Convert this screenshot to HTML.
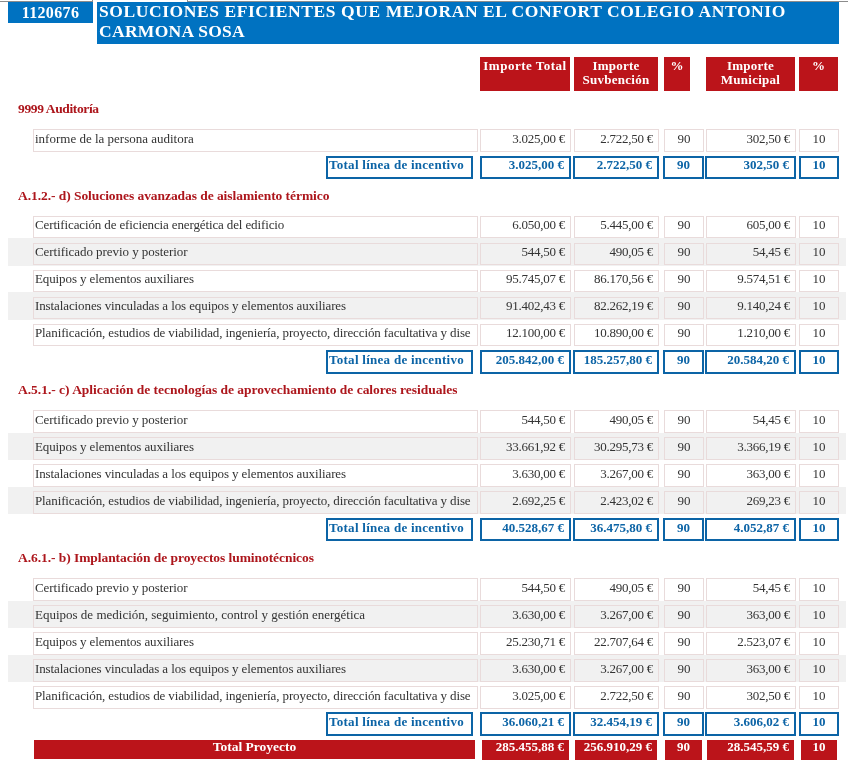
<!DOCTYPE html>
<html lang="es"><head><meta charset="utf-8"><title>Informe</title>
<style>
html,body{margin:0;padding:0;background:#fff;}
body{width:848px;height:769px;position:relative;overflow:hidden;font-family:"Liberation Serif",serif;font-size:13px;color:#333;}
div{position:absolute;box-sizing:border-box;white-space:nowrap;overflow:hidden;}
.topline{background:#8c8c8c;height:1px;top:1px;}
.id{left:8px;top:2px;width:85px;height:21px;background:#0072c1;color:#fff;font-weight:bold;font-size:16px;line-height:21px;text-align:center;letter-spacing:.35px;padding-left:0;}
.title{left:97px;top:2px;width:742px;height:42px;background:#0072c1;color:#fff;font-weight:bold;font-size:17.5px;line-height:20px;}
.title span{position:absolute;left:2px;white-space:nowrap;}
.hd{top:57px;height:34px;background:#bb141a;color:#fff;font-weight:bold;font-size:13px;line-height:14px;text-align:center;padding-top:2px;white-space:normal;letter-spacing:.25px;}
.sec{left:18px;color:#ad161c;font-weight:bold;font-size:13.5px;line-height:16px;height:18px;letter-spacing:-.06px;}
.band{left:8px;width:838px;height:28px;background:#f1f1f1;}
.c{height:22px;border:1px solid #e9dbdb;line-height:16px;}
.l{padding-left:1px;}
.r{text-align:right;padding-right:5px;letter-spacing:-.25px;}
.m{text-align:center;}
.t{height:23px;border:2px solid #0c64a6;color:#0c64a6;font-weight:bold;line-height:16px;font-size:13px;}
.t.r{padding-right:5px;letter-spacing:0;}
.tl{letter-spacing:.27px;text-align:left;padding-left:1px;}
.p{background:#bb141a;color:#fff;font-weight:bold;line-height:14px;height:20px;top:740px;font-size:13px;}
.p.r{padding-right:5px;letter-spacing:0;}
</style></head><body>
<div class="topline" style="left:0;width:93px"></div>
<div class="topline" style="left:187px;width:661px"></div>
<div class="topline" style="left:92px;width:1px;top:0;height:3px"></div>
<div class="topline" style="left:187px;width:1px;top:0;height:3px"></div>
<div class="id">1120676</div>
<div class="title"><span style="top:-1px;letter-spacing:.57px">SOLUCIONES EFICIENTES QUE MEJORAN EL CONFORT COLEGIO ANTONIO</span> <span style="top:19px;letter-spacing:.3px">CARMONA SOSA</span></div>

<div class="hd" style="left:480px;width:90px;letter-spacing:.5px">Importe Total</div>
<div class="hd" style="left:574px;width:84px">Importe<br>Suvbención</div>
<div class="hd" style="left:664px;width:26px">%</div>
<div class="hd" style="left:706px;width:89px">Importe<br>Municipal</div>
<div class="hd" style="left:799px;width:39px">%</div>
<div class="sec" style="top:101px;letter-spacing:-0.37px">9999 Auditoría</div>
<div class="c l" style="left:33px;width:445px;top:129px;height:23px;padding-top:1px">informe de la persona auditora</div>
<div class="c r" style="left:480px;width:91px;top:129px;height:23px;padding-top:1px">3.025,00 €</div>
<div class="c r" style="left:574px;width:85px;top:129px;height:23px;padding-top:1px">2.722,50 €</div>
<div class="c m" style="left:664px;width:40px;top:129px;height:23px;padding-top:1px">90</div>
<div class="c r" style="left:706px;width:90px;top:129px;height:23px;padding-top:1px">302,50 €</div>
<div class="c m" style="left:799px;width:40px;top:129px;height:23px;padding-top:1px">10</div>
<div class="t tl" style="left:326px;width:147px;top:156px;line-height:14px">Total línea de incentivo</div>
<div class="t r" style="left:480px;width:91px;top:156px;line-height:14px">3.025,00 €</div>
<div class="t r" style="left:573px;width:86px;top:156px;line-height:14px">2.722,50 €</div>
<div class="t m" style="left:663px;width:41px;top:156px;line-height:14px">90</div>
<div class="t r" style="left:705px;width:91px;top:156px;line-height:14px">302,50 €</div>
<div class="t m" style="left:799px;width:40px;top:156px;line-height:14px">10</div>
<div class="sec" style="top:188px">A.1.2.- d) Soluciones avanzadas de aislamiento térmico</div>
<div class="c l" style="left:33px;width:445px;top:216px;letter-spacing:-0.127px">Certificación de eficiencia energética del edificio</div>
<div class="c r" style="left:480px;width:91px;top:216px">6.050,00 €</div>
<div class="c r" style="left:574px;width:85px;top:216px">5.445,00 €</div>
<div class="c m" style="left:664px;width:40px;top:216px">90</div>
<div class="c r" style="left:706px;width:90px;top:216px">605,00 €</div>
<div class="c m" style="left:799px;width:40px;top:216px">10</div>
<div class="band" style="top:238px;height:28px"></div>
<div class="c l" style="left:33px;width:445px;top:243px;letter-spacing:-0.055px">Certificado previo y posterior</div>
<div class="c r" style="left:480px;width:91px;top:243px">544,50 €</div>
<div class="c r" style="left:574px;width:85px;top:243px">490,05 €</div>
<div class="c m" style="left:664px;width:40px;top:243px">90</div>
<div class="c r" style="left:706px;width:90px;top:243px">54,45 €</div>
<div class="c m" style="left:799px;width:40px;top:243px">10</div>
<div class="c l" style="left:33px;width:445px;top:270px;letter-spacing:-0.107px">Equipos y elementos auxiliares</div>
<div class="c r" style="left:480px;width:91px;top:270px">95.745,07 €</div>
<div class="c r" style="left:574px;width:85px;top:270px">86.170,56 €</div>
<div class="c m" style="left:664px;width:40px;top:270px">90</div>
<div class="c r" style="left:706px;width:90px;top:270px">9.574,51 €</div>
<div class="c m" style="left:799px;width:40px;top:270px">10</div>
<div class="band" style="top:292px;height:28px"></div>
<div class="c l" style="left:33px;width:445px;top:297px;letter-spacing:-0.104px">Instalaciones vinculadas a los equipos y elementos auxiliares</div>
<div class="c r" style="left:480px;width:91px;top:297px">91.402,43 €</div>
<div class="c r" style="left:574px;width:85px;top:297px">82.262,19 €</div>
<div class="c m" style="left:664px;width:40px;top:297px">90</div>
<div class="c r" style="left:706px;width:90px;top:297px">9.140,24 €</div>
<div class="c m" style="left:799px;width:40px;top:297px">10</div>
<div class="c l" style="left:33px;width:445px;top:324px;letter-spacing:-0.116px">Planificación, estudios de viabilidad, ingeniería, proyecto, dirección facultativa y dise</div>
<div class="c r" style="left:480px;width:91px;top:324px">12.100,00 €</div>
<div class="c r" style="left:574px;width:85px;top:324px">10.890,00 €</div>
<div class="c m" style="left:664px;width:40px;top:324px">90</div>
<div class="c r" style="left:706px;width:90px;top:324px">1.210,00 €</div>
<div class="c m" style="left:799px;width:40px;top:324px">10</div>
<div class="t tl" style="left:326px;width:147px;top:350px;height:24px">Total línea de incentivo</div>
<div class="t r" style="left:480px;width:91px;top:350px;height:24px">205.842,00 €</div>
<div class="t r" style="left:573px;width:86px;top:350px;height:24px">185.257,80 €</div>
<div class="t m" style="left:663px;width:41px;top:350px;height:24px">90</div>
<div class="t r" style="left:705px;width:91px;top:350px;height:24px">20.584,20 €</div>
<div class="t m" style="left:799px;width:40px;top:350px;height:24px">10</div>
<div class="sec" style="top:382px;letter-spacing:-0.02px">A.5.1.- c) Aplicación de tecnologías de aprovechamiento de calores residuales</div>
<div class="c l" style="left:33px;width:445px;top:410px;height:23px;padding-top:1px;letter-spacing:-0.055px">Certificado previo y posterior</div>
<div class="c r" style="left:480px;width:91px;top:410px;height:23px;padding-top:1px">544,50 €</div>
<div class="c r" style="left:574px;width:85px;top:410px;height:23px;padding-top:1px">490,05 €</div>
<div class="c m" style="left:664px;width:40px;top:410px;height:23px;padding-top:1px">90</div>
<div class="c r" style="left:706px;width:90px;top:410px;height:23px;padding-top:1px">54,45 €</div>
<div class="c m" style="left:799px;width:40px;top:410px;height:23px;padding-top:1px">10</div>
<div class="band" style="top:433px;height:27px"></div>
<div class="c l" style="left:33px;width:445px;top:437px;height:23px;padding-top:1px;letter-spacing:-0.107px">Equipos y elementos auxiliares</div>
<div class="c r" style="left:480px;width:91px;top:437px;height:23px;padding-top:1px">33.661,92 €</div>
<div class="c r" style="left:574px;width:85px;top:437px;height:23px;padding-top:1px">30.295,73 €</div>
<div class="c m" style="left:664px;width:40px;top:437px;height:23px;padding-top:1px">90</div>
<div class="c r" style="left:706px;width:90px;top:437px;height:23px;padding-top:1px">3.366,19 €</div>
<div class="c m" style="left:799px;width:40px;top:437px;height:23px;padding-top:1px">10</div>
<div class="c l" style="left:33px;width:445px;top:464px;height:23px;padding-top:1px;letter-spacing:-0.104px">Instalaciones vinculadas a los equipos y elementos auxiliares</div>
<div class="c r" style="left:480px;width:91px;top:464px;height:23px;padding-top:1px">3.630,00 €</div>
<div class="c r" style="left:574px;width:85px;top:464px;height:23px;padding-top:1px">3.267,00 €</div>
<div class="c m" style="left:664px;width:40px;top:464px;height:23px;padding-top:1px">90</div>
<div class="c r" style="left:706px;width:90px;top:464px;height:23px;padding-top:1px">363,00 €</div>
<div class="c m" style="left:799px;width:40px;top:464px;height:23px;padding-top:1px">10</div>
<div class="band" style="top:487px;height:27px"></div>
<div class="c l" style="left:33px;width:445px;top:491px;height:23px;padding-top:1px;letter-spacing:-0.116px">Planificación, estudios de viabilidad, ingeniería, proyecto, dirección facultativa y dise</div>
<div class="c r" style="left:480px;width:91px;top:491px;height:23px;padding-top:1px">2.692,25 €</div>
<div class="c r" style="left:574px;width:85px;top:491px;height:23px;padding-top:1px">2.423,02 €</div>
<div class="c m" style="left:664px;width:40px;top:491px;height:23px;padding-top:1px">90</div>
<div class="c r" style="left:706px;width:90px;top:491px;height:23px;padding-top:1px">269,23 €</div>
<div class="c m" style="left:799px;width:40px;top:491px;height:23px;padding-top:1px">10</div>
<div class="t tl" style="left:326px;width:147px;top:518px">Total línea de incentivo</div>
<div class="t r" style="left:480px;width:91px;top:518px">40.528,67 €</div>
<div class="t r" style="left:573px;width:86px;top:518px">36.475,80 €</div>
<div class="t m" style="left:663px;width:41px;top:518px">90</div>
<div class="t r" style="left:705px;width:91px;top:518px">4.052,87 €</div>
<div class="t m" style="left:799px;width:40px;top:518px">10</div>
<div class="sec" style="top:550px">A.6.1.- b) Implantación de proyectos luminotécnicos</div>
<div class="c l" style="left:33px;width:445px;top:578px;height:23px;padding-top:1px;letter-spacing:-0.055px">Certificado previo y posterior</div>
<div class="c r" style="left:480px;width:91px;top:578px;height:23px;padding-top:1px">544,50 €</div>
<div class="c r" style="left:574px;width:85px;top:578px;height:23px;padding-top:1px">490,05 €</div>
<div class="c m" style="left:664px;width:40px;top:578px;height:23px;padding-top:1px">90</div>
<div class="c r" style="left:706px;width:90px;top:578px;height:23px;padding-top:1px">54,45 €</div>
<div class="c m" style="left:799px;width:40px;top:578px;height:23px;padding-top:1px">10</div>
<div class="band" style="top:601px;height:27px"></div>
<div class="c l" style="left:33px;width:445px;top:605px;height:23px;padding-top:1px">Equipos de medición, seguimiento, control y gestión energética</div>
<div class="c r" style="left:480px;width:91px;top:605px;height:23px;padding-top:1px">3.630,00 €</div>
<div class="c r" style="left:574px;width:85px;top:605px;height:23px;padding-top:1px">3.267,00 €</div>
<div class="c m" style="left:664px;width:40px;top:605px;height:23px;padding-top:1px">90</div>
<div class="c r" style="left:706px;width:90px;top:605px;height:23px;padding-top:1px">363,00 €</div>
<div class="c m" style="left:799px;width:40px;top:605px;height:23px;padding-top:1px">10</div>
<div class="c l" style="left:33px;width:445px;top:632px;height:23px;padding-top:1px;letter-spacing:-0.107px">Equipos y elementos auxiliares</div>
<div class="c r" style="left:480px;width:91px;top:632px;height:23px;padding-top:1px">25.230,71 €</div>
<div class="c r" style="left:574px;width:85px;top:632px;height:23px;padding-top:1px">22.707,64 €</div>
<div class="c m" style="left:664px;width:40px;top:632px;height:23px;padding-top:1px">90</div>
<div class="c r" style="left:706px;width:90px;top:632px;height:23px;padding-top:1px">2.523,07 €</div>
<div class="c m" style="left:799px;width:40px;top:632px;height:23px;padding-top:1px">10</div>
<div class="band" style="top:655px;height:27px"></div>
<div class="c l" style="left:33px;width:445px;top:659px;height:23px;padding-top:1px;letter-spacing:-0.104px">Instalaciones vinculadas a los equipos y elementos auxiliares</div>
<div class="c r" style="left:480px;width:91px;top:659px;height:23px;padding-top:1px">3.630,00 €</div>
<div class="c r" style="left:574px;width:85px;top:659px;height:23px;padding-top:1px">3.267,00 €</div>
<div class="c m" style="left:664px;width:40px;top:659px;height:23px;padding-top:1px">90</div>
<div class="c r" style="left:706px;width:90px;top:659px;height:23px;padding-top:1px">363,00 €</div>
<div class="c m" style="left:799px;width:40px;top:659px;height:23px;padding-top:1px">10</div>
<div class="c l" style="left:33px;width:445px;top:686px;height:23px;padding-top:1px;letter-spacing:-0.116px">Planificación, estudios de viabilidad, ingeniería, proyecto, dirección facultativa y dise</div>
<div class="c r" style="left:480px;width:91px;top:686px;height:23px;padding-top:1px">3.025,00 €</div>
<div class="c r" style="left:574px;width:85px;top:686px;height:23px;padding-top:1px">2.722,50 €</div>
<div class="c m" style="left:664px;width:40px;top:686px;height:23px;padding-top:1px">90</div>
<div class="c r" style="left:706px;width:90px;top:686px;height:23px;padding-top:1px">302,50 €</div>
<div class="c m" style="left:799px;width:40px;top:686px;height:23px;padding-top:1px">10</div>
<div class="t tl" style="left:326px;width:147px;top:712px;height:24px">Total línea de incentivo</div>
<div class="t r" style="left:480px;width:91px;top:712px;height:24px">36.060,21 €</div>
<div class="t r" style="left:573px;width:86px;top:712px;height:24px">32.454,19 €</div>
<div class="t m" style="left:663px;width:41px;top:712px;height:24px">90</div>
<div class="t r" style="left:705px;width:91px;top:712px;height:24px">3.606,02 €</div>
<div class="t m" style="left:799px;width:40px;top:712px;height:24px">10</div>
<div class="p m" style="left:34px;width:441px;height:19px;font-size:13.5px;letter-spacing:0;line-height:13px">Total Proyecto</div>
<div class="p r" style="left:482px;width:87px;top:740px">285.455,88 €</div>
<div class="p r" style="left:575px;width:82px;top:740px">256.910,29 €</div>
<div class="p m" style="left:665px;width:37px;top:740px">90</div>
<div class="p r" style="left:707px;width:87px;top:740px">28.545,59 €</div>
<div class="p m" style="left:801px;width:36px;top:740px">10</div>
</body></html>
